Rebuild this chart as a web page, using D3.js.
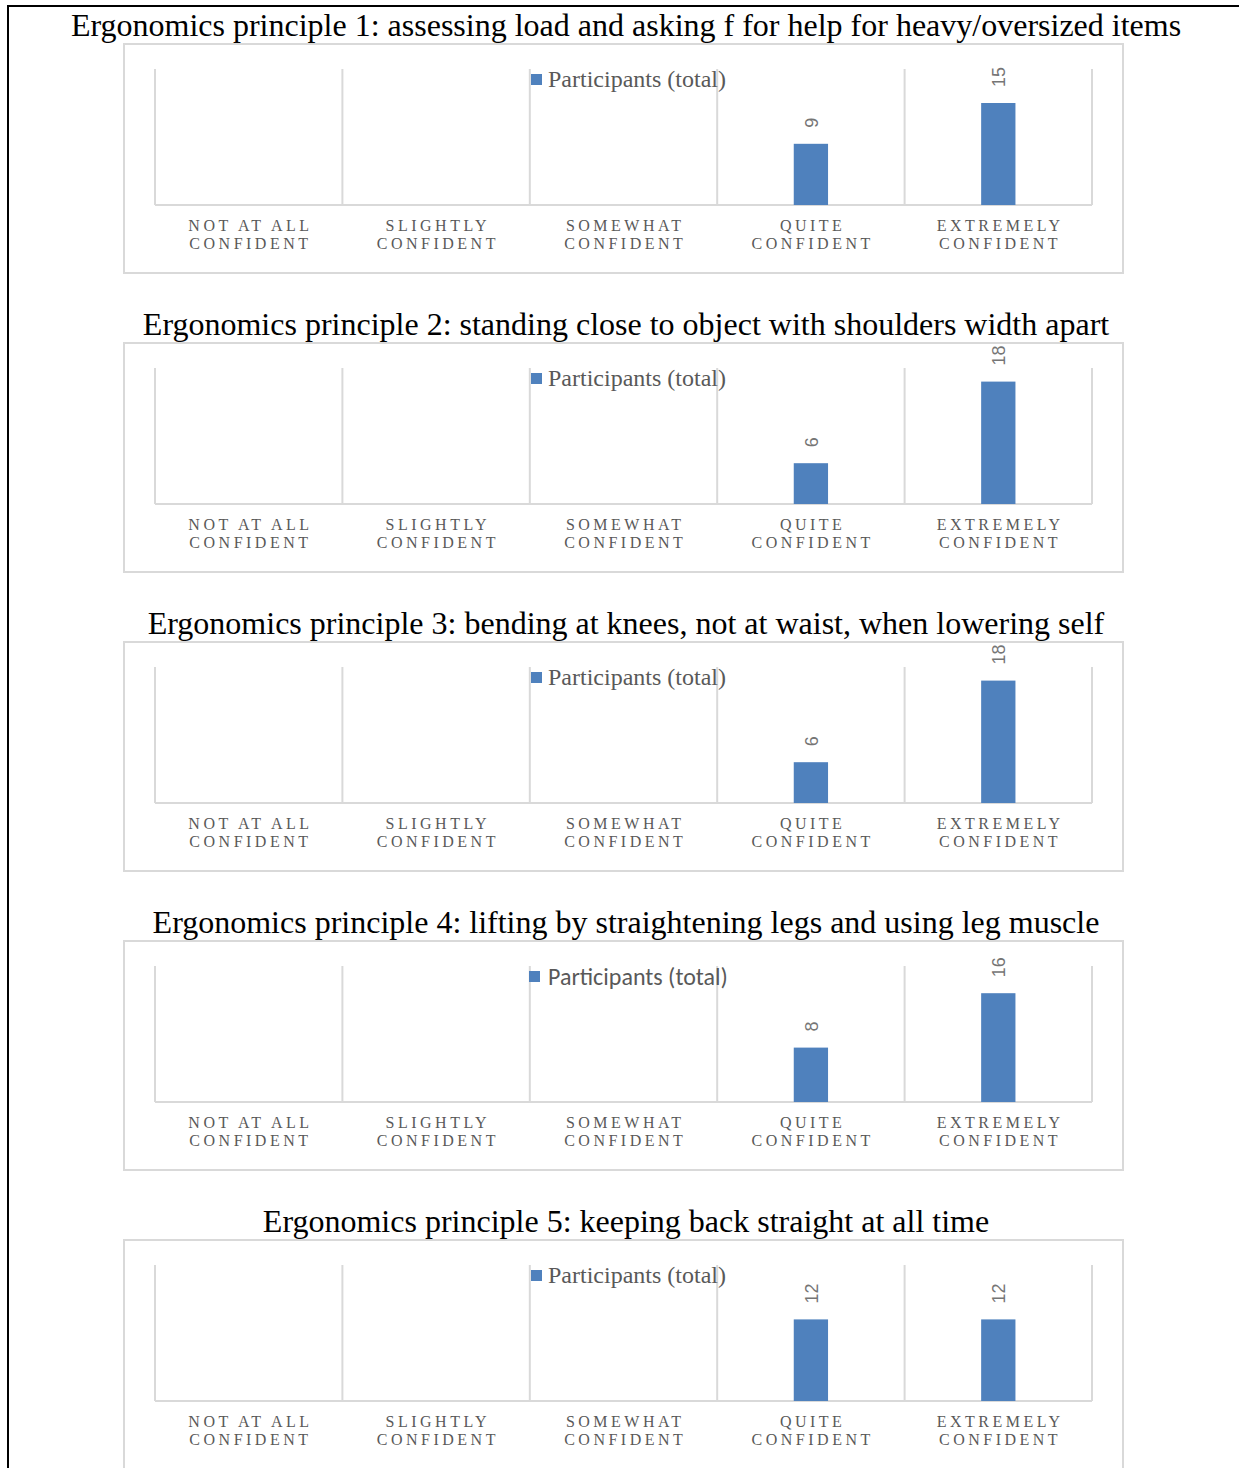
<!DOCTYPE html>
<html>
<head>
<meta charset="utf-8">
<script src="https://cdn.jsdelivr.net/npm/d3@7"></script>
<style>
  html, body { margin: 0; padding: 0; background: #fff; }
  svg { display: block; }
</style>
</head>
<body>
<svg id="chart" width="1239" height="1468"></svg>
<script>
// Survey: confidence in applying each ergonomics principle
const categories = ["Not at all confident", "Slightly confident", "Somewhat confident", "Quite confident", "Extremely confident"];
const titles = [
  "Ergonomics principle 1: assessing load and asking f for help for heavy/oversized items",
  "Ergonomics principle 2: standing close to object with shoulders width apart",
  "Ergonomics principle 3: bending at knees, not at waist, when lowering self",
  "Ergonomics principle 4: lifting by straightening legs and using leg muscle",
  "Ergonomics principle 5: keeping back straight at all time"
];
const seriesName = "Participants (total)";
const principle1 = [null, null, null, 9, 15];
const principle2 = [null, null, null, 6, 18];
const principle3 = [null, null, null, 6, 18];
const principle4 = [null, null, null, 8, 16];
const principle5 = [null, null, null, 12, 12];
const panelValues = [principle1, principle2, principle3, principle4, principle5];
const yMax = 20;

const svg = d3.select("#chart");
const W = 1239, H = 1468;

const BLUE = "#4f81bd";
const GRID = "#d9d9d9";
const SERIF = "'Liberation Serif', 'Times New Roman', serif";
const SANS = "Carlito, 'Liberation Sans', Arial, sans-serif";
const LABEL_SANS = "'Liberation Sans', Arial, sans-serif";

// Page frame (left and top rules)
svg.append("rect").attr("x", 7).attr("y", 5).attr("width", W - 7).attr("height", 2).attr("fill", "#000");
svg.append("rect").attr("x", 7).attr("y", 5).attr("width", 2).attr("height", H - 5).attr("fill", "#000");

const panelLeft = 124, panelWidth = 999, panelHeight = 229;
const panelTop0 = 44, panelStep = 299;
const plotLeft = 155, plotRight = 1092;
const gridTopOff = 25, baseOff = 161;

const x = d3.scaleBand().domain(categories).range([plotLeft, plotRight]).padding(0);
const barW = x.bandwidth() * 0.183;

panelValues.forEach((vals, i) => {
  const top = panelTop0 + i * panelStep;
  const base = top + baseOff;
  const y = d3.scaleLinear().domain([0, yMax]).range([base, top + gridTopOff]);
  const g = svg.append("g");

  // title above the chart frame
  svg.append("text")
    .attr("x", 626).attr("y", top - 8)
    .attr("text-anchor", "middle")
    .attr("font-family", SERIF).attr("font-size", 32)
    .attr("fill", "#000")
    .text(titles[i]);

  // chart frame
  g.append("rect")
    .attr("x", panelLeft).attr("y", top)
    .attr("width", panelWidth).attr("height", panelHeight)
    .attr("fill", "#fff").attr("stroke", GRID).attr("stroke-width", 2);

  // vertical category gridlines
  const edges = categories.map(c => x(c)).concat([plotRight]);
  g.selectAll("line.grid").data(edges).join("line")
    .attr("class", "grid")
    .attr("x1", d => d).attr("x2", d => d)
    .attr("y1", y(yMax)).attr("y2", base)
    .attr("stroke", GRID).attr("stroke-width", 2);

  // category axis line
  g.append("line")
    .attr("x1", plotLeft).attr("x2", plotRight)
    .attr("y1", base).attr("y2", base)
    .attr("stroke", GRID).attr("stroke-width", 2);

  const rows = categories.map((c, j) => ({ c, v: vals[j] }));

  // bars
  g.selectAll("rect.bar").data(rows.filter(d => d.v != null)).join("rect")
    .attr("class", "bar")
    .attr("x", d => x(d.c) + x.bandwidth() / 2 - barW / 2)
    .attr("y", d => y(d.v))
    .attr("width", barW)
    .attr("height", d => base - y(d.v))
    .attr("fill", BLUE);

  // rotated value labels
  g.selectAll("text.val").data(rows.filter(d => d.v != null)).join("text")
    .attr("class", "val")
    .attr("transform", d => `translate(${x(d.c) + x.bandwidth() / 2 + 7},${y(d.v) - 16}) rotate(-90)`)
    .attr("font-family", LABEL_SANS).attr("font-size", 18)
    .attr("fill", "#757575")
    .text(d => d.v);

  // category labels, uppercase and letter-spaced, two lines
  const ls = 3.5;
  rows.forEach(d => {
    const words = d.c.toUpperCase().split(" ");
    const lines = [words.slice(0, -1).join(" "), words[words.length - 1]];
    lines.forEach((line, k) => {
      g.append("text")
        .attr("x", x(d.c) + x.bandwidth() / 2 + ls / 2)
        .attr("y", top + 186.5 + k * 18)
        .attr("text-anchor", "middle")
        .attr("font-family", SERIF).attr("font-size", 16)
        .attr("letter-spacing", ls)
        .attr("fill", "#595959")
        .text(line);
    });
  });

  // legend
  const sans = i === 3;
  const leg = g.append("g");
  const lt = leg.append("text")
    .attr("x", 548).attr("y", top + 43)
    .attr("font-family", sans ? SANS : SERIF)
    .attr("font-size", 24)
    .attr("fill", "#595959")
    .text(seriesName);
  if (sans) {
    // fit the sans legend entry to its usual run width
    const w = lt.node().getComputedTextLength();
    lt.attr("font-size", 24 * 180 / w).attr("y", top + 44);
  }
  leg.append("rect")
    .attr("x", sans ? 529 : 531).attr("y", top + 30)
    .attr("width", 11).attr("height", 11)
    .attr("fill", BLUE);
});
</script>
</body>
</html>
